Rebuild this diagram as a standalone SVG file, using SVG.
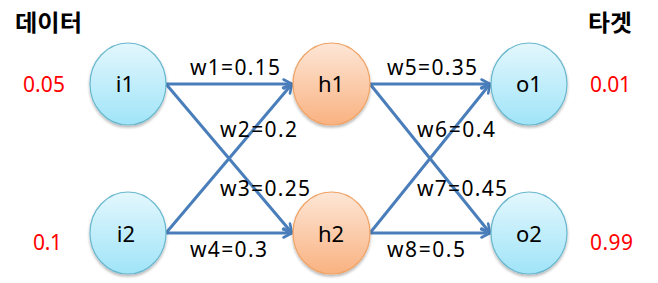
<svg xmlns="http://www.w3.org/2000/svg" width="658" height="283" viewBox="0 0 658 283">
<defs>
<linearGradient id="gb" x1="0" y1="0" x2="0" y2="1">
<stop offset="0" stop-color="#e3f7fd"/>
<stop offset="1" stop-color="#a0e4f8"/>
</linearGradient>
<linearGradient id="go" x1="0" y1="0" x2="0" y2="1">
<stop offset="0" stop-color="#fde6d6"/>
<stop offset="1" stop-color="#f9b281"/>
</linearGradient>
<filter id="sh" x="-20%" y="-20%" width="140%" height="150%">
<feGaussianBlur in="SourceAlpha" stdDeviation="1.5"/>
<feOffset dy="2" result="b"/>
<feComponentTransfer><feFuncA type="linear" slope="0.3"/></feComponentTransfer>
<feMerge><feMergeNode/><feMergeNode in="SourceGraphic"/></feMerge>
</filter>
<marker id="ar" viewBox="0 0 12 12" refX="10.5" refY="6" markerWidth="12" markerHeight="12" markerUnits="userSpaceOnUse" orient="auto">
<path d="M2,1.5 L10.5,6 L2,10.5" fill="none" stroke="#4a7ebb" stroke-width="2.6" stroke-linecap="round" stroke-linejoin="round"/>
</marker>
</defs>
<style>
.t{font-family:"Noto Sans","Noto Sans CJK KR",sans-serif;}
.n{font-size:22px;fill:#000;text-anchor:middle;}
.w{font-size:21px;fill:#000;}
.v{font-size:21px;fill:#ff0000;}
.h{font-size:23px;font-weight:bold;fill:#000;font-family:"Noto Sans CJK KR",sans-serif;}
.b{fill:url(#gb);stroke:#6ab8cf;stroke-width:1.2;filter:url(#sh);}
.o{fill:url(#go);stroke:#f0a365;stroke-width:1.2;filter:url(#sh);}
.c line{stroke:#4a7ebb;stroke-width:3;marker-end:url(#ar);}
</style>
<g id="connectors" class="c">
<line x1="166" y1="84" x2="292" y2="84"/>
<line x1="166" y1="84" x2="292" y2="233"/>
<line x1="166" y1="233" x2="292" y2="84"/>
<line x1="166" y1="233" x2="292" y2="233"/>
<line x1="370" y1="84" x2="490" y2="84"/>
<line x1="370" y1="84" x2="490" y2="233"/>
<line x1="370" y1="233" x2="490" y2="84"/>
<line x1="370" y1="233" x2="490" y2="233"/>
</g>
<g id="i1"><ellipse class="b" cx="128" cy="84" rx="38" ry="41"/><text class="t n" x="125" y="92">i1</text></g>
<g id="i2"><ellipse class="b" cx="128" cy="233" rx="38" ry="41"/><text class="t n" x="126" y="242">i2</text></g>
<g id="h1"><ellipse class="o" cx="331.5" cy="84" rx="38.5" ry="41"/><text class="t n" x="331" y="92">h1</text></g>
<g id="h2"><ellipse class="o" cx="331.5" cy="233" rx="38.5" ry="41"/><text class="t n" x="331" y="242">h2</text></g>
<g id="o1"><ellipse class="b" cx="529" cy="84" rx="38" ry="41"/><text class="t n" x="529" y="92">o1</text></g>
<g id="o2"><ellipse class="b" cx="529" cy="233" rx="38" ry="41"/><text class="t n" x="529" y="242">o2</text></g>
<g id="labels">
<text class="h" x="15" y="31" textLength="67" lengthAdjust="spacingAndGlyphs">데이터</text>
<text class="h" x="588" y="31" textLength="44" lengthAdjust="spacingAndGlyphs">타겟</text>
<text class="t v" x="23" y="92" textLength="42">0.05</text>
<text class="t v" x="33" y="250" textLength="29">0.1</text>
<text class="t v" x="590" y="92" textLength="41">0.01</text>
<text class="t v" x="590" y="250" textLength="43">0.99</text>
<text class="t w" x="190" y="75" textLength="90">w1=0.15</text>
<text class="t w" x="220" y="137" textLength="77">w2=0.2</text>
<text class="t w" x="220" y="196" textLength="90">w3=0.25</text>
<text class="t w" x="190" y="257" textLength="77">w4=0.3</text>
<text class="t w" x="387" y="75" textLength="90">w5=0.35</text>
<text class="t w" x="417" y="137" textLength="78">w6=0.4</text>
<text class="t w" x="417" y="196" textLength="90">w7=0.45</text>
<text class="t w" x="387" y="257" textLength="78">w8=0.5</text>
</g>
</svg>
